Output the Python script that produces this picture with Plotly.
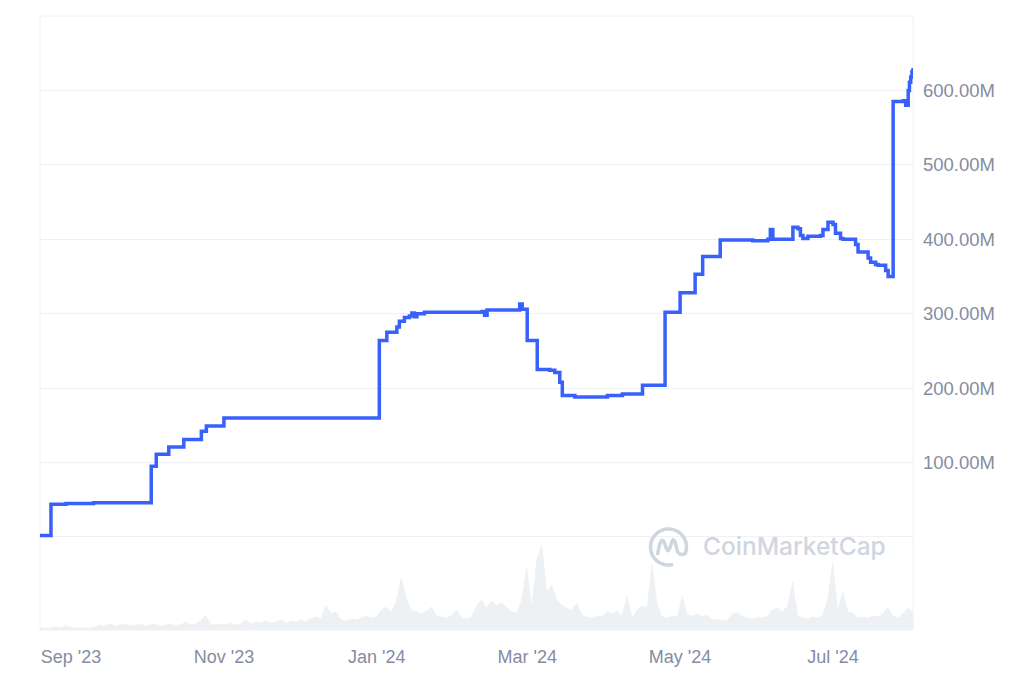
import numpy as np
import pandas as pd
import plotly.graph_objects as go

# ---- Market cap (USD millions), step series ----
cap_dates = [
    "2023-08-19 15:00", "2023-08-24", "2023-08-30", "2023-09-10", "2023-09-25",
    "2023-10-03", "2023-10-05", "2023-10-10", "2023-10-16", "2023-10-23",
    "2023-10-25", "2023-11-01", "2023-11-20", "2023-12-15",
    "2024-01-02", "2024-01-05", "2024-01-09", "2024-01-10", "2024-01-12",
    "2024-01-14", "2024-01-15", "2024-01-16", "2024-01-17", "2024-01-20",
    "2024-02-01", "2024-02-12", "2024-02-13", "2024-02-14", "2024-02-27",
    "2024-02-28", "2024-03-01", "2024-03-05", "2024-03-10", "2024-03-12",
    "2024-03-14", "2024-03-15", "2024-03-20", "2024-04-02", "2024-04-08",
    "2024-04-16", "2024-04-25", "2024-05-01", "2024-05-07", "2024-05-10",
    "2024-05-17", "2024-05-30", "2024-06-05", "2024-06-06", "2024-06-07",
    "2024-06-15", "2024-06-17", "2024-06-18", "2024-06-19", "2024-06-21",
    "2024-06-26", "2024-06-27", "2024-06-29", "2024-07-01", "2024-07-02",
    "2024-07-04", "2024-07-05", "2024-07-10", "2024-07-11", "2024-07-15",
    "2024-07-16", "2024-07-18", "2024-07-19", "2024-07-22", "2024-07-23",
    "2024-07-25", "2024-07-29", "2024-07-30", "2024-07-31", "2024-07-31 12:00",
    "2024-08-01", "2024-08-01 12:00", "2024-08-01 22:00",
]
cap_values = [
    2, 44, 45, 46, 46,
    95, 111, 121, 131, 142,
    149, 160, 160, 160,
    264, 275, 282, 290, 295,
    297, 301, 296, 300, 302,
    302, 303, 298, 305, 313,
    306, 264, 225, 224, 221,
    208, 190, 188, 190, 192,
    204, 302, 328, 353, 377,
    399, 398, 400, 413, 400,
    416, 414, 405, 401, 404,
    405, 413, 423, 420, 408,
    401, 400, 393, 383, 375,
    369, 366, 365, 358, 350,
    585, 586, 580, 600, 611,
    618, 625, 630,
]

# ---- 24h volume (USD millions), roughly every 2 days ----
vol_start = "2023-08-19 15:00"
vol_end = "2024-08-01 22:00"
vol_values = [
    0.2, 0.2, 0.2, 0.3, 0.2, 0.4, 0.3, 0.2, 0.2, 0.2,
    0.2, 0.3, 0.5, 0.4, 0.6, 0.4, 0.5, 0.6, 0.4, 0.5,
    0.6, 0.4, 0.5, 0.6, 0.4, 0.5, 0.6, 0.4, 0.5, 0.8,
    0.5, 0.6, 0.9, 1.5, 0.6, 0.5, 0.6, 0.5, 0.7, 0.5,
    0.6, 1.0, 0.6, 0.8, 0.7, 0.9, 0.7, 0.8, 1.0, 0.7,
    0.9, 0.8, 1.0, 0.8, 1.2, 1.3, 1.1, 2.5, 1.6, 1.8,
    1.0, 0.9, 1.1, 1.0, 1.2, 1.4, 1.2, 1.3, 2.0, 2.3,
    1.8, 2.8, 5.2, 3.2, 2.0, 1.8, 1.6, 1.9, 2.3, 1.4,
    1.3, 1.2, 1.4, 2.0, 1.2, 1.1, 1.3, 2.4, 3.0, 2.2,
    2.9, 2.5, 2.7, 2.2, 1.8, 1.7, 3.0, 6.2, 2.2, 7.0,
    8.5, 3.8, 4.5, 3.0, 2.5, 2.2, 2.0, 2.7, 1.5, 1.3,
    1.2, 1.4, 1.3, 1.8, 1.6, 1.9, 1.4, 3.3, 1.2, 2.0,
    2.4, 2.2, 6.5, 2.5, 1.3, 1.2, 1.4, 1.3, 3.3, 1.5,
    1.4, 1.6, 1.3, 1.5, 1.0, 1.1, 0.9, 1.0, 1.6, 1.7,
    1.4, 1.2, 1.1, 1.3, 1.2, 1.4, 2.0, 2.2, 1.8, 2.4,
    4.8, 1.4, 1.2, 1.1, 1.3, 1.2, 1.5, 3.0, 6.8, 2.0,
    3.8, 1.8, 1.7, 1.2, 1.3, 1.2, 1.4, 1.3, 1.6, 2.3,
    1.4, 1.2, 1.6, 2.2, 1.8,
]
vol_dates = pd.date_range(vol_start, vol_end, periods=len(vol_values))

# ---- axis ticks ----
x_tickvals = ["2023-09-01", "2023-11-01", "2024-01-01", "2024-03-01", "2024-05-01", "2024-07-01"]
x_ticktext = ["Sep '23", "Nov '23", "Jan '24", "Mar '24", "May '24", "Jul '24"]
y_tickvals = [0, 100, 200, 300, 400, 500, 600, 700]
y_ticktext = ["", "100.00M", "200.00M", "300.00M", "400.00M", "500.00M", "600.00M", ""]

LINE = "#3861FB"
GRID = "#EFF2F5"
LABEL = "#858CA2"
MARK = "#CFD6E0"

fig = go.Figure()
fig.add_trace(go.Scatter(
    x=vol_dates, y=vol_values, yaxis="y2", mode="lines",
    line=dict(color="#ECEFF3", width=0.6), fill="tozeroy",
    fillcolor="#EEF1F4", hoverinfo="skip", showlegend=False,
))
fig.add_trace(go.Scatter(
    x=pd.to_datetime(cap_dates, format="mixed"), y=cap_values, mode="lines",
    line=dict(color=LINE, width=3.5, shape="hv"), showlegend=False,
))

# watermark logo (open circle + wave), drawn in pixels around an anchor
ang = np.linspace(np.deg2rad(-25), np.deg2rad(-75) + 2 * np.pi, 60)
r = 18
circ = "M " + " L ".join(f"{r*np.cos(a):.2f},{r*np.sin(a):.2f}" for a in ang)
wave = "M -11,-8 C -9,6 -6,10 -4,4 C -2,-2 -1,-6 1,-2 C 3,3 4,10 6,6 C 8,2 8,-4 10,-6 C 12,-8 15,-8 17,-6"
common = dict(type="path", xref="paper", yref="paper", xsizemode="pixel", ysizemode="pixel",
              xanchor=(668.5 - 40) / 873, yanchor=(630 - 547) / 614,
              line=dict(color=MARK, width=3.5), layer="above")
fig.add_shape(path=circ, **common)
fig.add_shape(path=wave, **common)

# plot frame
fig.add_shape(type="rect", xref="paper", yref="paper", x0=0, x1=1, y0=0, y1=1,
              line=dict(color=GRID, width=1), layer="below")

fig.add_annotation(text="CoinMarketCap", xref="paper", yref="paper",
                   x=(701 - 40) / 873, y=(630 - 546) / 614, xanchor="left", yanchor="middle",
                   showarrow=False, font=dict(family="Inter", size=24.5, color=MARK, weight=500))

fig.update_layout(
    width=1008, height=667,
    margin=dict(l=32, r=103, t=8, b=45),
    paper_bgcolor="white", plot_bgcolor="white",
    font=dict(family="Liberation Sans, Arial", size=18, color=LABEL),
    xaxis=dict(
        range=["2023-08-19 15:00", "2024-08-01 22:00"],
        tickvals=x_tickvals, ticktext=x_ticktext,
        showgrid=False, zeroline=False, showline=False,
        ticks="", ticklabelstandoff=14,
        tickfont=dict(size=18, color=LABEL),
    ),
    yaxis=dict(
        side="right", range=[-125, 700],
        tickvals=y_tickvals, ticktext=y_ticktext,
        showgrid=True, gridcolor=GRID, gridwidth=1,
        zeroline=False, showline=False, ticks="", ticklabelstandoff=9,
        tickfont=dict(size=18.5, color=LABEL),
    ),
    yaxis2=dict(
        overlaying="y", range=[0, 61.4], visible=False, showgrid=False,
    ),
)

fig.write_html("out.html")
